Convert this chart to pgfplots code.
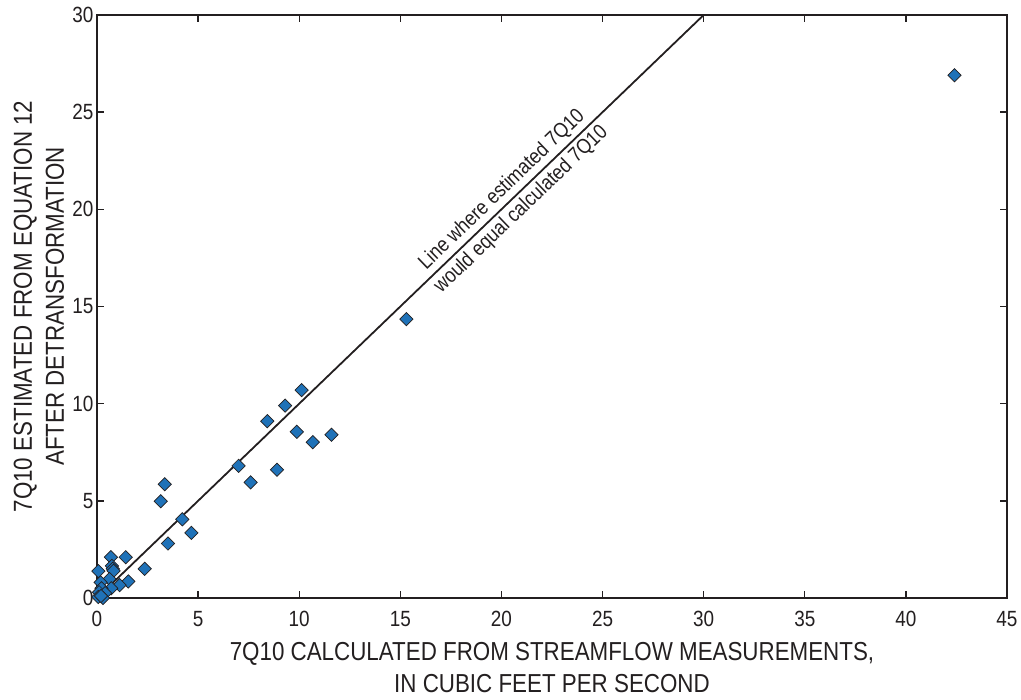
\documentclass[border=0pt]{standalone}
\usepackage{fontspec}
\setmainfont{Liberation Sans}[FakeStretch=0.86]
\usepackage{pgfplots}
\pgfplotsset{compat=1.18}
\definecolor{ptblue}{RGB}{31,114,184}
\definecolor{ink}{RGB}{35,31,32}
\begin{document}
\begin{tikzpicture}
\useasboundingbox (-97pt,-102pt) rectangle (924pt,598pt);
\begin{axis}[
  at={(0,0)}, anchor=south west,
  scale only axis, width=910pt, height=583pt,
  xmin=0, xmax=45, ymin=0, ymax=30,
  xtick={0,5,...,45}, ytick={0,5,...,30},
  tick align=inside, major tick length=7pt,
  axis line style={ink, line width=1.4pt},
  every tick/.style={ink, line width=1.4pt},
  tick label style={font=\fontsize{22}{26}\selectfont, text=ink},
  xticklabel style={yshift=-10pt},
  /pgf/number format/assume math mode=true,
  xlabel={7Q10 CALCULATED FROM STREAMFLOW MEASUREMENTS,\\IN CUBIC FEET PER SECOND},
  ylabel={7Q10 ESTIMATED FROM EQUATION 12\\AFTER DETRANSFORMATION},
  xlabel style={font=\fontsize{26}{32}\selectfont, text=ink, align=center,
    at={(axis description cs:0.5,-0.076)}, anchor=north, inner sep=0pt},
  ylabel style={font=\fontsize{26}{32}\selectfont, text=ink, align=center,
    at={(axis description cs:-0.036,0.5)}, anchor=south, rotate=0, inner sep=0pt},
  clip=false,
]
\addplot[ink, line width=1.8pt, no marks] coordinates {(0,0) (30,30)};
\addplot[only marks, mark=square*, mark size=4.7pt,
  mark options={rotate=45, fill=ptblue, draw=ink, line width=0.7pt}]
  coordinates {
  (42.4,26.9) (15.3,14.35)
  (10.12,10.7) (9.3,9.9) (8.42,9.1) (9.88,8.55) (10.67,8.02) (11.6,8.4)
  (7.0,6.8) (8.9,6.6) (7.6,5.95)
  (3.35,5.85) (3.15,4.98) (4.22,4.05) (4.67,3.35) (3.51,2.8)
  (0.69,2.1) (1.42,2.1) (0.74,1.65) (0.78,1.5) (0.82,1.4) (2.36,1.5)
  (0.07,1.38) (0.62,0.98) (1.55,0.85) (1.12,0.66) (0.7,0.5)
  (0.18,0.8) (0.22,0.5) (0.1,0.3) (0.4,0.25) (0.06,0.05) (0.3,0.0) (0.2,0.1)
  };
\node[font=\fontsize{21}{25}\selectfont, text=ink, rotate=43.86, anchor=south, inner sep=4pt]
  at (axis cs:20.5,20.5) {Line where estimated 7Q10};
\node[font=\fontsize{21}{25}\selectfont, text=ink, rotate=43.86, anchor=north, inner sep=4pt]
  at (axis cs:20.5,20.5) {would equal calculated 7Q10};
\end{axis}
\end{tikzpicture}
\end{document}
